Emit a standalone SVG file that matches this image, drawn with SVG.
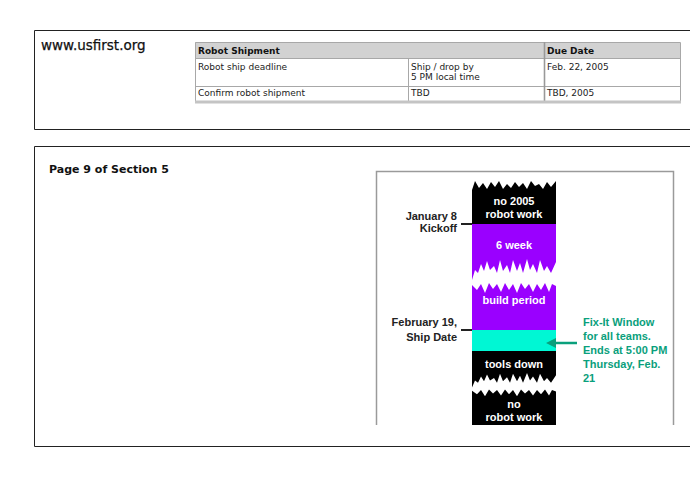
<svg xmlns="http://www.w3.org/2000/svg" width="690" height="500" viewBox="0 0 690 500">
<style>
.box{fill:none;stroke:#222;stroke-width:1}
.tl{stroke:#a8a8a8;stroke-width:1;fill:none}
.tt{font-family:"DejaVu Sans",Verdana,sans-serif;font-size:9px;fill:#222}
.th{font-family:"DejaVu Sans",Verdana,sans-serif;font-size:9px;font-weight:bold;fill:#111}
.bw{font-family:"Liberation Sans",Arial,sans-serif;font-size:11px;font-weight:bold;fill:#fff;text-anchor:middle}
.bl{font-family:"Liberation Sans",Arial,sans-serif;font-size:11px;font-weight:bold;fill:#222;text-anchor:end}
.gr{font-family:"Liberation Sans",Arial,sans-serif;font-size:11px;font-weight:bold;fill:#0aa07c}
</style>
<defs>
<polygon id="jag" fill="#fff" points="472,280 475,270 478,273 481,264 484,271 487,261 490,270 494,266 497,273 500,260 503,271 507,265 510,273 513,260 517,271 520,263 523,273 527,259 530,270 533,264 537,273 540,260 544,271 547,266 551,273 556,262 556,286 552,284 549,292 545,283 541,290 537,284 533,292 529,284 525,289 521,283 517,293 513,284 509,290 505,283 501,292 497,284 493,289 489,283 485,293 481,284 477,290 472,285"/>
<marker id="ah" viewBox="0 0 10 10" refX="1" refY="5" markerWidth="4" markerHeight="4" orient="auto-start-reverse">
<path d="M0,0 L10,5 L0,10 Z" fill="#0aa07c"/>
</marker>
</defs>
<rect width="690" height="500" fill="#fff"/>
<g id="top-panel">
<path class="box" d="M691,30.5 H34.5 V129.5 H691"/>
<text x="41" y="50" font-family="DejaVu Sans,Verdana,sans-serif" font-size="13.5" fill="#111" stroke="#111" stroke-width="0.25">www.usfirst.org</text>
</g>
<g id="table">
<rect x="195" y="42" width="485" height="16" fill="#d2d2d2"/>
<path class="tl" d="M195.5,42.5 H680.5 V101 M195.5,42.5 V101 M195,58.5 H680 M195,86.5 H680 M408.5,58 V101"/>
<path d="M544.5,42 V102" stroke="#999" stroke-width="1.6"/>
<rect x="195" y="100.5" width="486" height="3" fill="#c4c4c4"/>
<text class="th" x="198" y="54">Robot Shipment</text>
<text class="th" x="547" y="54">Due Date</text>
<text class="tt" x="198" y="70">Robot ship deadline</text>
<text class="tt" x="411" y="70">Ship / drop by</text>
<text class="tt" x="411" y="80">5 PM local time</text>
<text class="tt" x="547" y="70">Feb. 22, 2005</text>
<text class="tt" x="198" y="96">Confirm robot shipment</text>
<text class="tt" x="411" y="96">TBD</text>
<text class="tt" x="547" y="96">TBD, 2005</text>
</g>
<g id="bottom-panel">
<path class="box" d="M691,146.5 H34.5 V446.5 H691"/>
<text x="49" y="173" font-family="DejaVu Sans,Verdana,sans-serif" font-size="11" font-weight="bold" fill="#111">Page 9 of Section 5</text>
</g>
<g id="frame">
<path d="M376.5,425 V171.5 H673.5 V425" fill="none" stroke="#9a9a9a" stroke-width="1.5"/>
</g>
<g id="bar-no2005">
<polygon fill="#000" points="472,190 475,181 479,188 483,183 487,189 491,182 495,187 499,181 503,189 507,184 511,188 515,182 519,187 523,183 527,189 531,181 535,186 539,184 543,189 547,182 551,187 556,181 556,224 472,224"/>
<text class="bw" x="514" y="205">no 2005</text>
<text class="bw" x="514" y="218">robot work</text>
</g>
<g id="bar-build">
<rect x="472" y="224" width="84" height="106" fill="#9a00ff"/>
<use href="#jag"/>
<text class="bw" x="514" y="249">6 week</text>
<text class="bw" x="514" y="304">build period</text>
</g>
<g id="bar-fixit">
<rect x="472" y="330" width="84" height="21" fill="#00f7d4"/>
</g>
<g id="bar-toolsdown">
<rect x="472" y="351" width="84" height="74" fill="#000"/>
<use href="#jag" transform="matrix(1,0,0,0.68,0,197)"/>
<text class="bw" x="514" y="368">tools down</text>
<text class="bw" x="514" y="408">no</text>
<text class="bw" x="514" y="421">robot work</text>
</g>
<g id="label-kickoff">
<text class="bl" x="457" y="220">January 8</text>
<text class="bl" x="457" y="232">Kickoff</text>
</g>
<g id="label-ship">
<text class="bl" x="457" y="326">February 19,</text>
<text class="bl" x="457" y="341">Ship Date</text>
</g>
<g id="label-fixit">
<text class="gr" x="583" y="326">Fix-It Window</text>
<text class="gr" x="583" y="340">for all teams.</text>
<text class="gr" x="583" y="354">Ends at 5:00 PM</text>
<text class="gr" x="583" y="368">Thursday, Feb.</text>
<text class="gr" x="583" y="382">21</text>
</g>
<g id="connectors">
<path d="M461,224 H472" stroke="#222" stroke-width="2"/>
<path d="M461,330 H472" stroke="#222" stroke-width="2"/>
<path d="M577,343 H555" stroke="#0aa07c" stroke-width="2.5" marker-end="url(#ah)"/>
</g>
</svg>
